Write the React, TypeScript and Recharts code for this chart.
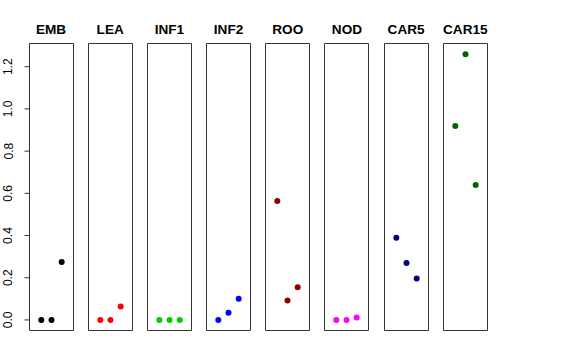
import { ReferenceArea, Scatter, ScatterChart, XAxis, YAxis } from 'recharts';

const panelNames = ['EMB', 'LEA', 'INF1', 'INF2', 'ROO', 'NOD', 'CAR5', 'CAR15'];
const panelColors = ['#000000', '#ff0000', '#00cd00', '#0000ff', '#8b0000', '#ff00ff', '#000080', '#006400'];

const embValues = [0, 0, 0.275];
const leaValues = [0, 0, 0.064];
const inf1Values = [0, 0, 0];
const inf2Values = [0, 0.034, 0.1];
const rooValues = [0.564, 0.092, 0.155];
const nodValues = [0, 0, 0.012];
const car5Values = [0.39, 0.27, 0.196];
const car15Values = [0.919, 1.259, 0.64];

const yTicks = [0, 0.2, 0.4, 0.6, 0.8, 1.0, 1.2];

const allValues = [embValues, leaValues, inf1Values, inf2Values, rooValues, nodValues, car5Values, car15Values];

const X_DOMAIN: [number, number] = [-0.16, 4.16];
const Y_DOMAIN: [number, number] = [-0.05, 1.31];
const STEP = 59.19;
const FONT = '"Liberation Sans", Arial, Helvetica, sans-serif';

const YTick = (props: any) => {
  const { y, payload } = props;
  return (
    <text
      x={12.5}
      y={y}
      transform={`rotate(-90, 12.5, ${y})`}
      textAnchor='middle'
      fontSize={12}
      fontFamily={FONT}
      fill='#000'
    >
      {Number(payload.value).toFixed(1)}
    </text>
  );
};

const Panel = ({ index }: { index: number }) => {
  const first = index === 0;
  const color = panelColors[index];
  const data = allValues[index].map((v, i) => ({ x: i + 1, y: v }));
  const yAxisWidth = 28;
  const left = first ? 0 : 27.5 + index * STEP;
  const width = first ? 1.5 + yAxisWidth + 44 + 2.5 : 48;
  return (
    <div style={{ position: 'absolute', left, top: 0 }}>
      <ScatterChart
        width={width}
        height={360}
        margin={{ top: 43.5, right: 2.5, bottom: 29.5, left: 1.5 }}
      >
        <XAxis type='number' dataKey='x' domain={X_DOMAIN} hide allowDataOverflow />
        <YAxis
          type='number'
          dataKey='y'
          domain={Y_DOMAIN}
          ticks={yTicks}
          hide={!first}
          width={yAxisWidth}
          axisLine={false}
          tickSize={5}
          tickLine={{ stroke: '#333' }}
          tick={<YTick />}
          allowDataOverflow
        />
        <ReferenceArea
          x1={X_DOMAIN[0]}
          x2={X_DOMAIN[1]}
          y1={Y_DOMAIN[0]}
          y2={Y_DOMAIN[1]}
          fill='none'
          stroke='#333'
          strokeWidth={1}
        />
        <Scatter
          data={data}
          isAnimationActive={false}
          shape={(p: any) => <circle cx={p.cx} cy={p.cy} r={3} fill={color} />}
        />
      </ScatterChart>
    </div>
  );
};

export default function App() {
  return (
    <div
      style={{
        position: 'absolute',
        left: 0,
        top: 0,
        width: 576,
        height: 360,
        background: '#fff',
        fontFamily: FONT,
      }}
    >
      {panelNames.map((name, i) => (
        <div
          key={name}
          style={{
            position: 'absolute',
            left: 29 + i * STEP + 22 - 30,
            top: 21.5,
            width: 60,
            textAlign: 'center',
            fontSize: 13.6,
            fontWeight: 'bold',
            lineHeight: '15px',
          }}
        >
          {name}
        </div>
      ))}
      {panelNames.map((name, i) => (
        <Panel key={name} index={i} />
      ))}
    </div>
  );
}
